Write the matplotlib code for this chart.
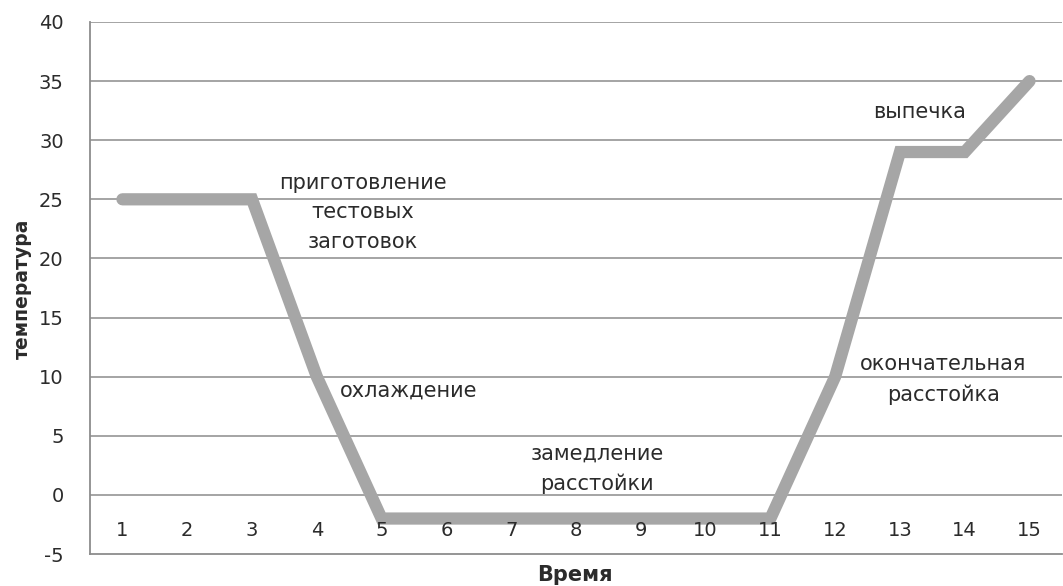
import matplotlib
matplotlib.use("Agg")
import matplotlib.pyplot as plt

# Temperature profile of the dough process
time_steps = [1, 2, 3, 4, 5, 6, 7, 8, 9, 10, 11, 12, 13, 14, 15]
temperature = [25, 25, 25, 10, -2, -2, -2, -2, -2, -2, -2, 10, 29, 29, 35]
y_ticks = [-5, 0, 5, 10, 15, 20, 25, 30, 35, 40]

stage_labels = ["приготовление\nтестовых\nзаготовок", "охлаждение",
                "замедление\nрасстойки", "окончательная\nрасстойка", "выпечка"]
stage_x = [4.71, 5.42, 8.33, 13.67, 13.31]
stage_y = [23.9, 8.8, 2.2, 9.75, 32.4]

plt.rcParams["font.family"] = ["DejaVu Sans"]
text_color = "#2b2b2b"
grid_color = "#8c8c8c"

fig = plt.figure(figsize=(10.63, 5.86), dpi=100)
ax = fig.add_axes([0.0847, 0.0546, 0.9143, 0.9079])

ax.set_xlim(0.5, 15.5)
ax.set_ylim(-5, 40)
ax.set_yticks(y_ticks)
ax.set_yticklabels([str(v) for v in y_ticks], fontsize=14, color=text_color)
ax.tick_params(axis="y", length=0, pad=19)
ax.set_xticks([])

for yv in y_ticks[1:]:
    ax.axhline(yv, color=grid_color, lw=1.1, zorder=1)

for side in ["top", "right"]:
    ax.spines[side].set_visible(False)
for side in ["left", "bottom"]:
    ax.spines[side].set_color(grid_color)
    ax.spines[side].set_linewidth(1.3)

ax.plot(time_steps, temperature, color="#a6a6a6", lw=8.8,
        solid_joinstyle="miter", solid_capstyle="round", zorder=3)

# category labels sit inside the plot just under the zero line
for t in time_steps:
    ax.text(t, -3.0, str(t), ha="center", va="center",
            fontsize=14, color=text_color, zorder=4)

for label, sx, sy in zip(stage_labels, stage_x, stage_y):
    ax.text(sx, sy, label, ha="center", va="center", fontsize=15,
            color=text_color, linespacing=1.6, zorder=4)

fig.text(0.541, 0.002, "Время", ha="center", va="bottom",
         fontsize=15, fontweight="bold", color=text_color)
fig.text(0.021, 0.507, "температура", ha="center", va="center",
         rotation=90, fontsize=13.5, fontweight="bold", color=text_color)

fig.savefig("out.png", dpi=100, facecolor="white")
